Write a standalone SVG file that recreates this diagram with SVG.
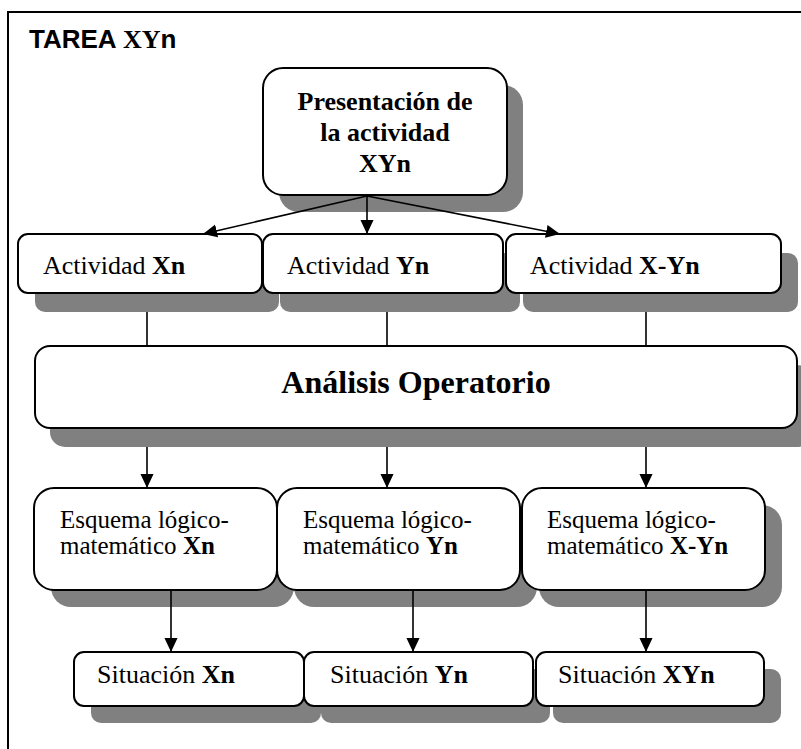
<svg xmlns="http://www.w3.org/2000/svg" width="801" height="749" viewBox="0 0 801 749">
<defs>
<marker id="ah" markerUnits="userSpaceOnUse" markerWidth="14" markerHeight="15" viewBox="0 0 15 14" refX="15" refY="7" orient="auto">
<path d="M0,0 L15,7 L0,14 Z" fill="#000"/>
</marker>
</defs>
<style>
.sh{fill:#808080;stroke:none}
.bx{fill:#fff;stroke:#000;stroke-width:2}
.t{font-family:"Liberation Serif","Times New Roman",serif;font-size:26px;fill:#000}
.e{font-size:25px}
.big{font-size:32px}
.b{font-weight:bold}
.c{stroke:#000;stroke-width:1.6;fill:none}
.ca{stroke:#000;stroke-width:1.6;fill:none;marker-end:url(#ah)}
</style>
<rect x="0" y="0" width="801" height="749" fill="#fff"/>
<rect id="frame" x="8" y="12" width="810" height="760" fill="none" stroke="#000" stroke-width="2"/>
<text id="title" x="29" y="48" font-family="'Liberation Sans',Arial,sans-serif" font-size="26" font-weight="bold">TAREA <tspan font-family="'Liberation Serif','Times New Roman',serif">XY</tspan>n</text>

<g id="shadows">
<rect class="sh" x="279" y="85" width="244" height="127" rx="20"/>
<rect class="sh" x="35" y="253" width="244" height="59" rx="10"/>
<rect class="sh" x="280" y="253" width="240" height="59" rx="10"/>
<rect class="sh" x="523" y="253" width="275" height="59" rx="10"/>
<rect class="sh" x="50" y="365" width="762" height="82" rx="15"/>
<rect class="sh" x="51" y="505" width="243" height="102" rx="20"/>
<rect class="sh" x="294" y="505" width="243" height="102" rx="20"/>
<rect class="sh" x="539" y="505" width="243" height="102" rx="20"/>
<rect class="sh" x="91" y="669" width="230" height="54" rx="10"/>
<rect class="sh" x="321" y="669" width="229" height="54" rx="10"/>
<rect class="sh" x="553" y="669" width="228" height="54" rx="10"/>
</g>

<g id="presentacion">
<rect class="bx" x="263" y="68" width="244" height="127" rx="20"/>
<text class="t b" x="385" y="110" text-anchor="middle">Presentación de</text>
<text class="t b" x="385" y="141" text-anchor="middle">la actividad</text>
<text class="t b" x="385" y="172" text-anchor="middle">XYn</text>
</g>

<g id="actividad-xn">
<rect class="bx" x="18" y="234" width="244" height="59" rx="10"/>
<text class="t" x="43" y="274">Actividad <tspan class="b">Xn</tspan></text>
</g>
<g id="actividad-yn">
<rect class="bx" x="263" y="234" width="240" height="59" rx="10"/>
<text class="t" x="287" y="274">Actividad <tspan class="b">Yn</tspan></text>
</g>
<g id="actividad-x-yn">
<rect class="bx" x="506" y="234" width="275" height="59" rx="10"/>
<text class="t" x="530" y="274">Actividad <tspan class="b">X-Yn</tspan></text>
</g>

<g id="analisis">
<rect class="bx" x="35" y="346" width="762" height="82" rx="15"/>
<text class="t b big" x="416" y="393" text-anchor="middle">Análisis Operatorio</text>
</g>

<g id="esquema-xn">
<rect class="bx" x="34" y="488" width="243" height="102" rx="20"/>
<text class="t e" x="60" y="528">Esquema lógico-</text>
<text class="t e" x="60" y="554">matemático <tspan class="b">Xn</tspan></text>
</g>
<g id="esquema-yn">
<rect class="bx" x="277" y="488" width="243" height="102" rx="20"/>
<text class="t e" x="303" y="528">Esquema lógico-</text>
<text class="t e" x="303" y="554">matemático <tspan class="b">Yn</tspan></text>
</g>
<g id="esquema-x-yn">
<rect class="bx" x="522" y="488" width="243" height="102" rx="20"/>
<text class="t e" x="547" y="528">Esquema lógico-</text>
<text class="t e" x="547" y="554">matemático <tspan class="b">X-Yn</tspan></text>
</g>

<g id="situacion-xn">
<rect class="bx" x="74" y="652" width="230" height="54" rx="10"/>
<text class="t" x="97" y="683">Situación <tspan class="b">Xn</tspan></text>
</g>
<g id="situacion-yn">
<rect class="bx" x="304" y="652" width="229" height="54" rx="10"/>
<text class="t" x="330" y="683">Situación <tspan class="b">Yn</tspan></text>
</g>
<g id="situacion-xyn">
<rect class="bx" x="536" y="652" width="228" height="54" rx="10"/>
<text class="t" x="558" y="683">Situación <tspan class="b">XYn</tspan></text>
</g>

<g id="connectors">
<line class="ca" x1="367" y1="196" x2="203" y2="234"/>
<line class="ca" x1="367" y1="196" x2="367" y2="234"/>
<line class="ca" x1="367" y1="196" x2="560" y2="234"/>
<line class="c" x1="147" y1="312" x2="147" y2="346"/>
<line class="c" x1="387" y1="312" x2="387" y2="346"/>
<line class="c" x1="646" y1="312" x2="646" y2="346"/>
<line class="ca" x1="147" y1="447" x2="147" y2="488"/>
<line class="ca" x1="387" y1="447" x2="387" y2="488"/>
<line class="ca" x1="646" y1="447" x2="646" y2="488"/>
<line class="ca" x1="171" y1="590" x2="171" y2="652"/>
<line class="ca" x1="413" y1="590" x2="413" y2="652"/>
<line class="ca" x1="646" y1="590" x2="646" y2="652"/>
</g>
</svg>
